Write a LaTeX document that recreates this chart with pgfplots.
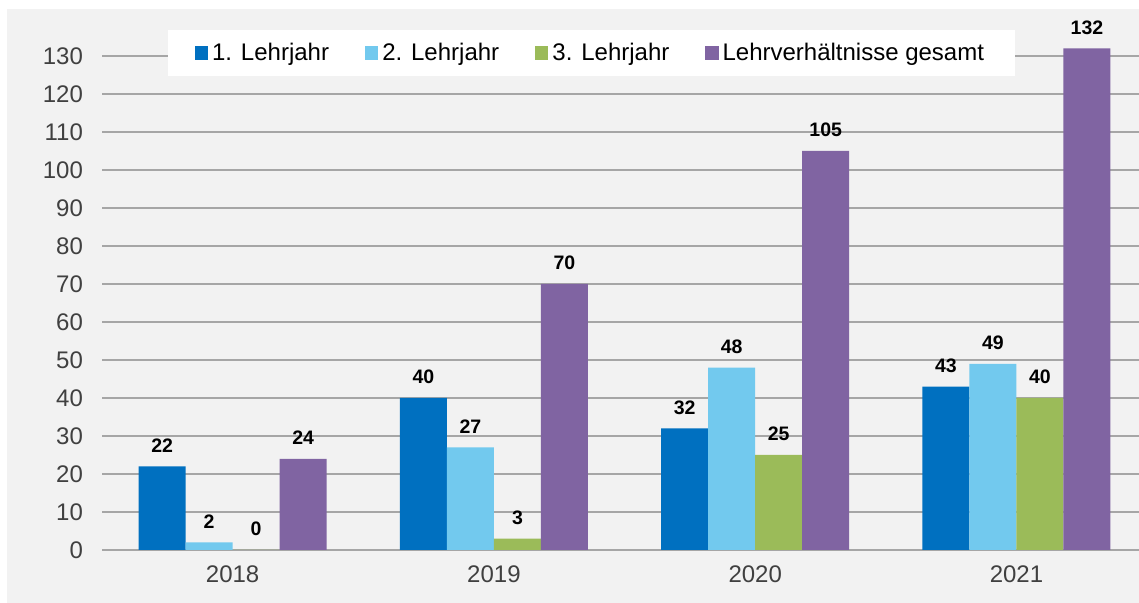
\documentclass[border=0pt]{standalone}
\usepackage{fontspec}
\setmainfont{Liberation Sans}
\usepackage{pgfplots}
\pgfplotsset{compat=1.18}
\definecolor{bg}{HTML}{F2F2F2}
\definecolor{gridc}{HTML}{A6A6A6}
\definecolor{c1}{HTML}{0070C0}
\definecolor{c2}{HTML}{72C9EE}
\definecolor{c3}{HTML}{9BBB59}
\definecolor{c4}{HTML}{8064A2}
\definecolor{txt}{HTML}{404040}
\pgfplotsset{sqlegend/.style={legend image code/.code={\fill[##1] (0pt,-3.3pt) rectangle (6.6pt,3.3pt);}}}
\begin{document}
\begin{tikzpicture}[x=0.5pt,y=0.5pt]
\useasboundingbox (0,0) rectangle (1139,603);
\fill[bg] (7,0) rectangle (1139,594);
\begin{axis}[
  at={(51pt,26.5pt)}, anchor=south west,
  scale only axis, width=518.5pt, height=266pt,
  xmin=-0.5, xmax=3.469, ymin=0, ymax=140,
  ybar=0pt, bar width=23.5pt,
  axis x line*=bottom, axis y line*=left,
  y axis line style={draw=none},
  x axis line style={draw=gridc, line width=1pt},
  ytick={0,10,...,130},
  ytick style={draw=none},
  ymajorgrids, grid style={draw=gridc, line width=1pt},
  xtick={0,1,2,3}, xticklabels={2018,2019,2020,2021},
  xtick style={draw=none},
  extra x ticks={-0.5,0.5,1.5,2.5}, extra x tick labels={},
  extra x tick style={grid=none, major tick length=3pt, tick align=outside, tick style={draw=gridc, line width=1pt}},
  /pgf/number format/assume math mode=true,
  tick label style={font=\fontsize{12}{14}\selectfont, text=txt},
  yticklabel style={xshift=-6pt},
  xticklabel style={yshift=0pt},
  nodes near coords,
  every node near coord/.append style={font=\fontsize{9.75}{11}\selectfont\bfseries, text=black, anchor=center, yshift=10.5pt},
  legend columns=4,
  legend style={at={(0.472,0.934)}, anchor=center, fill=white, draw=none,
    font=\fontsize{12}{14}\selectfont, inner xsep=13.5pt, inner ysep=4.5pt,
    /tikz/every even column/.append style={column sep=16pt}},
]
\addplot[fill=c1, draw=none, sqlegend] coordinates {(0,22) (1,40) (2,32) (3,43)};
\addplot[fill=c2, draw=none, sqlegend] coordinates {(0,2) (1,27) (2,48) (3,49)};
\addplot[fill=c3, draw=none, sqlegend] coordinates {(0,0) (1,3) (2,25) (3,40)};
\addplot[fill=c4, draw=none, sqlegend] coordinates {(0,24) (1,70) (2,105) (3,132)};
\legend{1. Lehrjahr, 2. Lehrjahr, 3. Lehrjahr, Lehrverhältnisse gesamt}
\end{axis}
\end{tikzpicture}
\end{document}
